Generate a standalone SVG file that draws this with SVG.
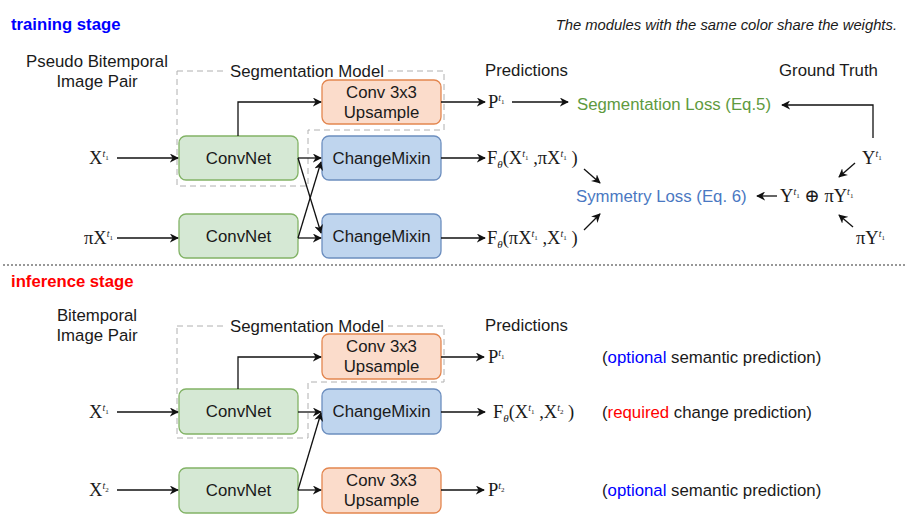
<svg xmlns="http://www.w3.org/2000/svg" width="907" height="532" viewBox="0 0 907 532">
<defs>
<marker id="ah" viewBox="0 0 10 10" refX="9" refY="5" markerWidth="9" markerHeight="9" orient="auto" markerUnits="userSpaceOnUse">
<path d="M0,0 L10,5 L0,10 L3,5 z" fill="#111"/>
</marker>
<style>
.t{font-family:"Liberation Sans",Arial,sans-serif;font-size:16.8px;fill:#1a1a1a}
.c{text-anchor:middle}
.m{font-family:"Liberation Serif","Times New Roman","DejaVu Serif",serif;font-size:18.5px;fill:#1a1a1a}
.sup{font-size:10px;font-style:italic}
.sub{font-size:7px}
.g{fill:#d5e8d4;stroke:#82b366;stroke-width:1.3}
.b{fill:#bfd5ee;stroke:#6c8ebf;stroke-width:1.3}
.o{fill:#fbdccb;stroke:#e3864f;stroke-width:1.3}
.dash{fill:none;stroke:#b0b0b0;stroke-width:1;stroke-dasharray:6 4}
.e{fill:none;stroke:#111;stroke-width:1.3;marker-end:url(#ah)}
</style>
</defs>
<rect width="907" height="532" fill="#ffffff"/>

<!-- headers -->
<text x="11" y="30" style="font-family:'Liberation Sans',Arial,sans-serif;font-size:16.7px;font-weight:bold;fill:#0000ff">training stage</text>
<text x="897" y="30" style="font-family:'Liberation Sans',Arial,sans-serif;font-size:14.8px;font-style:italic;fill:#1a1a1a;text-anchor:end">The modules with the same color share the weights.</text>
<line x1="3" y1="265" x2="905" y2="265" stroke="#777" stroke-width="1.5" stroke-dasharray="2 2"/>
<text x="11" y="287" style="font-family:'Liberation Sans',Arial,sans-serif;font-size:16.7px;font-weight:bold;fill:#ff0000">inference stage</text>

<!-- ================= TRAINING ================= -->
<g id="train-seg-model">
<path class="dash" d="M177,71 H444 V130 H308 V186 H177 Z"/>
<rect x="226" y="62" width="162" height="18" fill="#ffffff"/>
<text class="t c" x="307" y="77">Segmentation Model</text>
</g>
<g id="train-input-label">
<text class="t c" x="97" y="67">Pseudo Bitemporal</text>
<text class="t c" x="97" y="87">Image Pair</text>
</g>
<text class="t" x="485" y="76">Predictions</text>
<text class="t" x="779" y="76">Ground Truth</text>

<g id="train-x1"><text class="m" x="89" y="164">X<tspan class="sup" dy="-7">t</tspan><tspan class="sub" dy="3">1</tspan></text></g>
<g id="train-px1"><text class="m" x="84" y="244">πX<tspan class="sup" dy="-7">t</tspan><tspan class="sub" dy="3">1</tspan></text></g>

<g id="train-convnet1"><rect class="g" x="179" y="136" width="119" height="44" rx="7"/><text class="t c" x="238.5" y="164">ConvNet</text></g>
<g id="train-convnet2"><rect class="g" x="179" y="214" width="119" height="44" rx="7"/><text class="t c" x="238.5" y="242">ConvNet</text></g>
<g id="train-conv3x3"><rect class="o" x="322" y="80" width="119" height="44" rx="7"/><text class="t c" x="381.5" y="98">Conv 3x3</text><text class="t c" x="381.5" y="118">Upsample</text></g>
<g id="train-cm1"><rect class="b" x="322" y="136" width="119" height="44" rx="7"/><text class="t c" x="381.5" y="164">ChangeMixin</text></g>
<g id="train-cm2"><rect class="b" x="322" y="214" width="119" height="44" rx="7"/><text class="t c" x="381.5" y="242">ChangeMixin</text></g>

<g id="train-p1"><text class="m" x="488" y="108">P<tspan class="sup" dy="-7">t</tspan><tspan class="sub" dy="3">1</tspan></text></g>
<g id="train-f1"><text class="m" x="487" y="164">F<tspan style="font-size:11px;font-style:italic" dy="4">θ</tspan><tspan dy="-4">(X</tspan><tspan class="sup" dy="-7">t</tspan><tspan class="sub" dy="3">1</tspan><tspan dy="4"> ,πX</tspan><tspan class="sup" dy="-7">t</tspan><tspan class="sub" dy="3">1</tspan><tspan dy="4"> )</tspan></text></g>
<g id="train-f2"><text class="m" x="487" y="244">F<tspan style="font-size:11px;font-style:italic" dy="4">θ</tspan><tspan dy="-4">(πX</tspan><tspan class="sup" dy="-7">t</tspan><tspan class="sub" dy="3">1</tspan><tspan dy="4"> ,X</tspan><tspan class="sup" dy="-7">t</tspan><tspan class="sub" dy="3">1</tspan><tspan dy="4"> )</tspan></text></g>

<g id="seg-loss"><text x="577" y="110" style="font-family:'Liberation Sans',Arial,sans-serif;font-size:16.8px;fill:#5e9a3e">Segmentation Loss (Eq.5)</text></g>
<g id="sym-loss"><text x="576" y="202" style="font-family:'Liberation Sans',Arial,sans-serif;font-size:16.8px;fill:#4a78c2">Symmetry Loss (Eq. 6)</text></g>

<g id="gt-y"><text class="m" x="862" y="164">Y<tspan class="sup" dy="-7">t</tspan><tspan class="sub" dy="3">1</tspan></text></g>
<g id="gt-xor"><text class="m" x="780" y="202">Y<tspan class="sup" dy="-7">t</tspan><tspan class="sub" dy="3">1</tspan><tspan dy="4"> ⊕ πY</tspan><tspan class="sup" dy="-7">t</tspan><tspan class="sub" dy="3">1</tspan></text></g>
<g id="gt-py"><text class="m" x="856" y="244">πY<tspan class="sup" dy="-7">t</tspan><tspan class="sub" dy="3">1</tspan></text></g>

<!-- ================= INFERENCE ================= -->
<g id="inf-seg-model">
<path class="dash" d="M177,326 H444 V382 H308 V438 H177 Z"/>
<rect x="226" y="317" width="162" height="18" fill="#ffffff"/>
<text class="t c" x="307" y="332">Segmentation Model</text>
</g>
<g id="inf-input-label">
<text class="t c" x="97" y="321">Bitemporal</text>
<text class="t c" x="97" y="341">Image Pair</text>
</g>
<text class="t" x="485" y="331">Predictions</text>

<g id="inf-x1"><text class="m" x="89" y="418">X<tspan class="sup" dy="-7">t</tspan><tspan class="sub" dy="3">1</tspan></text></g>
<g id="inf-x2"><text class="m" x="89" y="496">X<tspan class="sup" dy="-7">t</tspan><tspan class="sub" dy="3">2</tspan></text></g>

<g id="inf-convnet1"><rect class="g" x="179" y="389" width="119" height="45" rx="7"/><text class="t c" x="238.5" y="417">ConvNet</text></g>
<g id="inf-convnet2"><rect class="g" x="179" y="468" width="119" height="45" rx="7"/><text class="t c" x="238.5" y="496">ConvNet</text></g>
<g id="inf-conv3x3-1"><rect class="o" x="322" y="334" width="119" height="45" rx="7"/><text class="t c" x="381.5" y="352">Conv 3x3</text><text class="t c" x="381.5" y="372">Upsample</text></g>
<g id="inf-cm"><rect class="b" x="322" y="389" width="119" height="45" rx="7"/><text class="t c" x="381.5" y="417">ChangeMixin</text></g>
<g id="inf-conv3x3-2"><rect class="o" x="322" y="468" width="119" height="45" rx="7"/><text class="t c" x="381.5" y="486">Conv 3x3</text><text class="t c" x="381.5" y="506">Upsample</text></g>

<g id="inf-p1"><text class="m" x="488" y="363">P<tspan class="sup" dy="-7">t</tspan><tspan class="sub" dy="3">1</tspan></text></g>
<g id="inf-f"><text class="m" x="493" y="418">F<tspan style="font-size:11px;font-style:italic" dy="4">θ</tspan><tspan dy="-4">(X</tspan><tspan class="sup" dy="-7">t</tspan><tspan class="sub" dy="3">1</tspan><tspan dy="4"> ,X</tspan><tspan class="sup" dy="-7">t</tspan><tspan class="sub" dy="3">2</tspan><tspan dy="4"> )</tspan></text></g>
<g id="inf-p2"><text class="m" x="488" y="496">P<tspan class="sup" dy="-7">t</tspan><tspan class="sub" dy="3">2</tspan></text></g>

<g id="inf-notes">
<text class="t" x="602" y="363">(<tspan fill="#0000ff">optional</tspan> semantic prediction)</text>
<text class="t" x="602" y="418">(<tspan fill="#ff0000">required</tspan> change prediction)</text>
<text class="t" x="602" y="496">(<tspan fill="#0000ff">optional</tspan> semantic prediction)</text>
</g>

<!-- ================= CONNECTORS ================= -->
<g id="connectors">
<line class="e" x1="117" y1="158" x2="178" y2="158"/>
<line class="e" x1="117" y1="238" x2="178" y2="238"/>
<polyline class="e" points="238,136 238,102 321,102"/>
<line class="e" x1="298" y1="158" x2="321" y2="158"/>
<line class="e" x1="298" y1="158" x2="321" y2="233"/>
<line class="e" x1="298" y1="238" x2="321" y2="238"/>
<line class="e" x1="298" y1="238" x2="321" y2="162"/>
<line class="e" x1="441" y1="102" x2="485" y2="102"/>
<line class="e" x1="441" y1="158" x2="485" y2="158"/>
<line class="e" x1="441" y1="238" x2="485" y2="238"/>
<line class="e" x1="512" y1="102" x2="568" y2="102"/>
<polyline class="e" points="873,138 873,105 782,105"/>
<line class="e" x1="584" y1="169" x2="600" y2="183"/>
<line class="e" x1="584" y1="230" x2="600" y2="214"/>
<line class="e" x1="777" y1="196" x2="757" y2="196"/>
<line class="e" x1="855" y1="163" x2="839" y2="177"/>
<line class="e" x1="853" y1="227" x2="839" y2="215"/>

<line class="e" x1="117" y1="412" x2="178" y2="412"/>
<line class="e" x1="117" y1="490" x2="178" y2="490"/>
<polyline class="e" points="238,389 238,357 321,357"/>
<line class="e" x1="298" y1="412" x2="321" y2="412"/>
<line class="e" x1="298" y1="490" x2="321" y2="413"/>
<line class="e" x1="298" y1="490" x2="321" y2="490"/>
<line class="e" x1="441" y1="357" x2="484" y2="357"/>
<line class="e" x1="441" y1="412" x2="485" y2="412"/>
<line class="e" x1="441" y1="490" x2="484" y2="490"/>
</g>
</svg>
